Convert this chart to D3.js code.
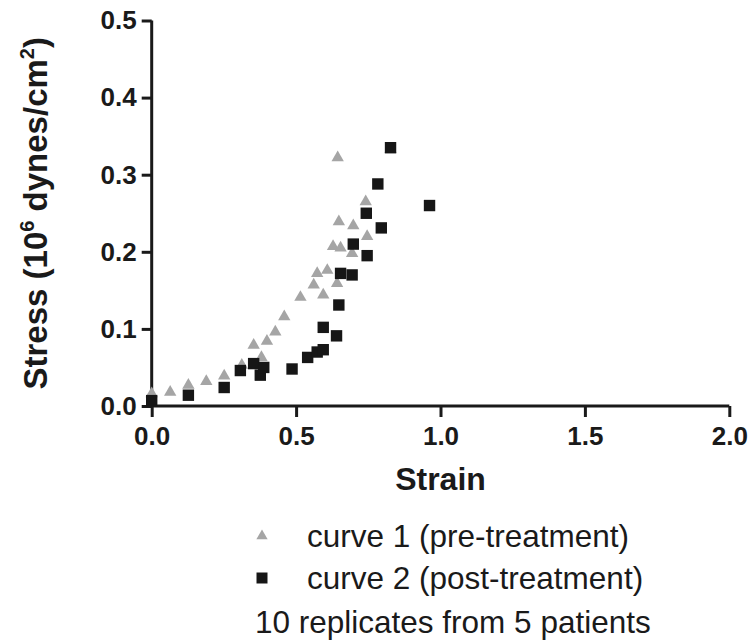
<!DOCTYPE html>
<html>
<head>
<meta charset="utf-8">
<script src="https://cdn.jsdelivr.net/npm/d3@7"></script>
<style>
  html, body { margin: 0; padding: 0; background: #fff; }
  svg { display: block; }
  text { font-family: "Liberation Sans", Arial, sans-serif; fill: #1a1a1a; }
</style>
</head>
<body>
<div id="chart"></div>
<script>
// ---- data ----
const preStrain  = [0.000, 0.064, 0.127, 0.189, 0.251, 0.312, 0.353, 0.380, 0.399, 0.428, 0.459, 0.515, 0.561, 0.573, 0.594, 0.608, 0.628, 0.642, 0.644, 0.648, 0.654, 0.694, 0.698, 0.741, 0.746, 0.827];
const preStress  = [0.016, 0.018, 0.027, 0.032, 0.039, 0.053, 0.079, 0.063, 0.084, 0.096, 0.116, 0.141, 0.157, 0.172, 0.144, 0.176, 0.207, 0.159, 0.322, 0.239, 0.205, 0.198, 0.234, 0.265, 0.220, 0.333];
const postStrain = [0.000, 0.127, 0.251, 0.307, 0.353, 0.376, 0.388, 0.486, 0.540, 0.573, 0.594, 0.594, 0.640, 0.648, 0.654, 0.694, 0.698, 0.743, 0.746, 0.783, 0.795, 0.827, 0.962];
const postStress = [0.007, 0.014, 0.024, 0.046, 0.055, 0.040, 0.050, 0.048, 0.063, 0.070, 0.073, 0.102, 0.091, 0.131, 0.172, 0.170, 0.210, 0.250, 0.195, 0.288, 0.231, 0.335, 0.260];
const xTicks = [0, 0.5, 1.0, 1.5, 2.0];
const yTicks = [0, 0.1, 0.2, 0.3, 0.4, 0.5];
const legendLabels = ["curve 1 (pre-treatment)", "curve 2 (post-treatment)"];
const footnote = "10 replicates from 5 patients";

const W = 751, H = 642;
const x0 = 151.7, x1 = 729.3, y0 = 406, y1 = 20.5;
const triColor = "#a5a5a5", sqColor = "#161616", axisColor = "#1a1a1a";

const svg = d3.select("#chart").append("svg").attr("width", W).attr("height", H);

const x = d3.scaleLinear().domain([0, 2]).range([x0, x1]);
const y = d3.scaleLinear().domain([0, 0.5]).range([y0, y1]);

// axes
const xAxis = d3.axisBottom(x).tickValues(xTicks).tickFormat(d3.format(".1f")).tickSize(11).tickPadding(10).tickSizeOuter(0);
const yAxis = d3.axisLeft(y).tickValues(yTicks).tickFormat(d3.format(".1f")).tickSize(10).tickPadding(5).tickSizeOuter(0);

const gx = svg.append("g").attr("transform", `translate(0,${y0})`).call(xAxis);
const gy = svg.append("g").attr("transform", `translate(${x0},0)`).call(yAxis);
[gx, gy].forEach(g => {
  g.select(".domain").attr("stroke", axisColor).attr("stroke-width", 3);
  g.selectAll(".tick line").attr("stroke", axisColor).attr("stroke-width", 3);
  g.selectAll(".tick text").attr("font-size", 26).attr("font-weight", "bold")
    .attr("font-family", '"Liberation Sans", Arial, sans-serif').attr("fill", axisColor);
});
gy.select(".domain").attr("d", `M0,${y1}V${y0}`);
gx.select(".domain").attr("d", `M${x0},0H${x1}`);

// axis titles
svg.append("text").attr("x", (x0 + x1) / 2).attr("y", 490)
  .attr("text-anchor", "middle").attr("font-size", 32).attr("font-weight", "bold")
  .text("Strain");

const yl = svg.append("text")
  .attr("transform", `translate(47,${(y0 + y1) / 2}) rotate(-90)`)
  .attr("text-anchor", "middle").attr("font-size", 33).attr("font-weight", "bold");
yl.append("tspan").text("Stress (10");
yl.append("tspan").attr("font-size", 20).attr("dy", -13).text("6");
yl.append("tspan").attr("dy", 13).text(" dynes/cm");
yl.append("tspan").attr("font-size", 20).attr("dy", -13).text("2");
yl.append("tspan").attr("dy", 13).text(")");

// marks
const tri = d3.symbol().type(d3.symbolTriangle).size(66);
const sq = d3.symbol().type(d3.symbolSquare).size(130);

const preData = preStrain.map((s, i) => ({ s, v: preStress[i] }));
const postData = postStrain.map((s, i) => ({ s, v: postStress[i] }));

svg.append("g").selectAll("path").data(preData).join("path")
  .attr("d", tri).attr("fill", triColor)
  .attr("transform", d => `translate(${x(d.s)},${y(d.v)})`);

svg.append("g").selectAll("path").data(postData).join("path")
  .attr("d", sq).attr("fill", sqColor)
  .attr("transform", d => `translate(${x(d.s)},${y(d.v)})`);

// legend
const legY = [536, 578];
const leg = svg.append("g");
leg.append("path").attr("d", d3.symbol().type(d3.symbolTriangle).size(55)).attr("fill", triColor)
  .attr("transform", `translate(262,${legY[0]})`);
leg.append("path").attr("d", d3.symbol().type(d3.symbolSquare).size(121)).attr("fill", sqColor)
  .attr("transform", `translate(262,${legY[1]})`);
legendLabels.forEach((t, i) => {
  leg.append("text").attr("x", 307).attr("y", legY[i]).attr("dy", "0.35em")
    .attr("font-size", 31.5).text(t);
});
leg.append("text").attr("x", 255).attr("y", 622).attr("dy", "0.35em")
  .attr("font-size", 31.5).text(footnote);
</script>
</body>
</html>
